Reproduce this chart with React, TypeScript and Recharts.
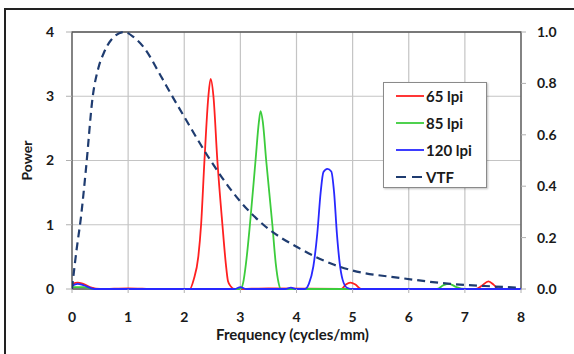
import React from 'react';
import {
  LineChart, Line, XAxis, YAxis, CartesianGrid, ReferenceArea, Legend,
} from 'recharts';

// ---- data ----
const xTicks = [0, 1, 2, 3, 4, 5, 6, 7, 8];
const powerTicks = [0, 1, 2, 3, 4];
const vtfTicks = [0, 0.2, 0.4, 0.6, 0.8, 1.0];

const freq65 = [0, 0.1, 0.2, 0.35, 0.5, 1.0, 1.5, 2.1, 2.17, 2.25, 2.3, 2.36, 2.43, 2.47, 2.52, 2.59, 2.68, 2.74, 2.78, 2.83, 2.9, 3.5, 4.8, 4.88, 4.96, 5.05, 5.15, 7.2, 7.3, 7.42, 7.52, 7.6, 8.0];
const power65 = [0.08, 0.1, 0.08, 0.02, 0, 0.01, 0, 0, 0.15, 0.5, 1.0, 2.0, 3.0, 3.27, 3.0, 2.0, 1.0, 0.4, 0.12, 0.04, 0, 0.01, 0, 0.07, 0.1, 0.07, 0, 0, 0.05, 0.12, 0.06, 0, 0];

const freq85 = [0, 0.2, 0.4, 3.0, 3.05, 3.1, 3.17, 3.27, 3.33, 3.36, 3.4, 3.46, 3.57, 3.63, 3.68, 3.72, 6.5, 6.62, 6.72, 6.85, 7.0, 8.0];
const power85 = [0.03, 0.03, 0, 0, 0.1, 0.4, 1.0, 2.0, 2.6, 2.77, 2.6, 2.0, 1.0, 0.4, 0.1, 0, 0, 0.06, 0.08, 0.03, 0, 0];

const freq120 = [0, 0.1, 0.2, 0.4, 2.9, 3.0, 3.1, 3.8, 3.9, 4.0, 4.15, 4.22, 4.3, 4.37, 4.43, 4.48, 4.55, 4.62, 4.67, 4.72, 4.77, 4.82, 4.9, 5.0, 8.0];
const power120 = [0.05, 0.08, 0.06, 0, 0, 0.03, 0, 0, 0.02, 0, 0, 0.08, 0.35, 0.86, 1.5, 1.82, 1.87, 1.83, 1.5, 0.86, 0.4, 0.15, 0.02, 0, 0];

const freqVtf = [0, 0.02, 0.08, 0.16, 0.25, 0.37, 0.47, 0.57, 0.7, 0.93, 1.1, 1.28, 1.58, 1.76, 2.0, 2.44, 3.0, 3.41, 4.07, 4.66, 5.0, 5.85, 6.74, 7.5, 8.0];
const vtfValues = [0, 0.04, 0.15, 0.28, 0.47, 0.75, 0.86, 0.92, 0.97, 1.0, 0.98, 0.94, 0.83, 0.76, 0.67, 0.51, 0.34, 0.25, 0.156, 0.095, 0.072, 0.043, 0.02, 0.01, 0.005];

const seriesNames = ['65 lpi', '85 lpi', '120 lpi', 'VTF'];
const seriesColors = ['#ff2020', '#3ccc3c', '#2828ff', '#1f3c70'];

const zip = (xs: number[], ys: number[]) => xs.map((x, i) => ({ x, y: ys[i] }));
const data65 = zip(freq65, power65);
const data85 = zip(freq85, power85);
const data120 = zip(freq120, power120);
const dataVtf = zip(freqVtf, vtfValues);

const FONT = 'Lato, "Open Sans", sans-serif';
const tickStyle = { fontFamily: FONT, fontWeight: 700, fontSize: 14, fill: '#1a1a1a' };

const LegendBox = () => (
  <div
    style={{
      width: 104,
      height: 106,
      boxSizing: 'border-box',
      border: '1px solid #8a8a8a',
      boxShadow: '1px 1px 2px rgba(0,0,0,0.25)',
      background: '#fff',
      position: 'relative',
      fontFamily: FONT,
      fontWeight: 700,
      fontSize: 15,
      color: '#1a1a1a',
    }}
  >
    {seriesNames.map((name, i) => (
      <div
        key={name}
        style={{ position: 'absolute', left: 12, top: 13 + i * 27 - 10, height: 20, display: 'flex', alignItems: 'center' }}
      >
        <svg width={28} height={6} style={{ display: 'block' }}>
          <line
            x1={0}
            y1={3}
            x2={28}
            y2={3}
            stroke={seriesColors[i]}
            strokeWidth={i === 3 ? 2.2 : 1.8}
            strokeDasharray={i === 3 ? '10 6' : undefined}
          />
        </svg>
        <span style={{ marginLeft: 2, whiteSpace: 'nowrap' }}>{name}</span>
      </div>
    ))}
  </div>
);

export default function App() {
  return (
    <div style={{ position: 'absolute', left: 0, top: 0, width: 574, height: 354, overflow: 'hidden', background: '#fff' }}>
      <div style={{ position: 'absolute', left: 0, top: 0 }}>
        <LineChart width={574} height={354} margin={{ top: 32, right: 0, bottom: 0, left: 0 }}>
          <CartesianGrid yAxisId="left" stroke="#c4c4c4" strokeWidth={1.2} />
          <XAxis
            type="number"
            dataKey="x"
            domain={[0, 8]}
            ticks={xTicks}
            allowDataOverflow
            height={65}
            axisLine={false}
            tickLine={{ stroke: '#b0b0b0' }}
            tickSize={4}
            tickMargin={19}
            tick={tickStyle}
            label={{ value: 'Frequency (cycles/mm)', position: 'insideBottom', offset: 14, dx: -4, style: { ...tickStyle, fontSize: 15 } }}
          />
          <YAxis
            yAxisId="left"
            domain={[0, 4]}
            ticks={powerTicks}
            width={72}
            axisLine={false}
            tickLine={{ stroke: '#b0b0b0' }}
            tickSize={6}
            tickMargin={12}
            tick={tickStyle}
            label={{ value: 'Power', angle: -90, position: 'insideLeft', offset: 5, dx: 22, style: { ...tickStyle, textAnchor: 'middle' } }}
          />
          <YAxis
            yAxisId="right"
            orientation="right"
            domain={[0, 1]}
            ticks={vtfTicks}
            width={53}
            axisLine={false}
            tickLine={{ stroke: '#b0b0b0' }}
            tickSize={5}
            tickMargin={11}
            tick={{ ...tickStyle, textAnchor: 'start' }}
            tickFormatter={(v: number) => v.toFixed(1)}
          />
          <ReferenceArea yAxisId="left" x1={0} x2={8} y1={0} y2={4} fill="none" stroke="#555" strokeWidth={1.3} ifOverflow="visible" />
          <Line yAxisId="left" data={data65} dataKey="y" name={seriesNames[0]} type="monotone" stroke={seriesColors[0]} strokeWidth={1.8} dot={false} activeDot={false} isAnimationActive={false} />
          <Line yAxisId="left" data={data85} dataKey="y" name={seriesNames[1]} type="monotone" stroke={seriesColors[1]} strokeWidth={1.8} dot={false} activeDot={false} isAnimationActive={false} />
          <Line yAxisId="left" data={data120} dataKey="y" name={seriesNames[2]} type="monotone" stroke={seriesColors[2]} strokeWidth={1.8} dot={false} activeDot={false} isAnimationActive={false} />
          <Line yAxisId="right" data={dataVtf} dataKey="y" name={seriesNames[3]} type="monotone" stroke={seriesColors[3]} strokeWidth={2.2} strokeDasharray="8 5" dot={false} activeDot={false} isAnimationActive={false} />
          <Legend
            layout="vertical"
            align="center"
            verticalAlign="middle"
            content={() => <LegendBox />}
            wrapperStyle={{ left: 383, top: 82, width: 104, height: 106 }}
          />
        </LineChart>
      </div>
      <div style={{ position: 'absolute', left: 4, top: 8, width: 620, height: 2, background: '#222', zIndex: 5 }} />
      <div style={{ position: 'absolute', left: 4, top: 8, width: 2, height: 400, background: '#222', zIndex: 5 }} />
    </div>
  );
}
